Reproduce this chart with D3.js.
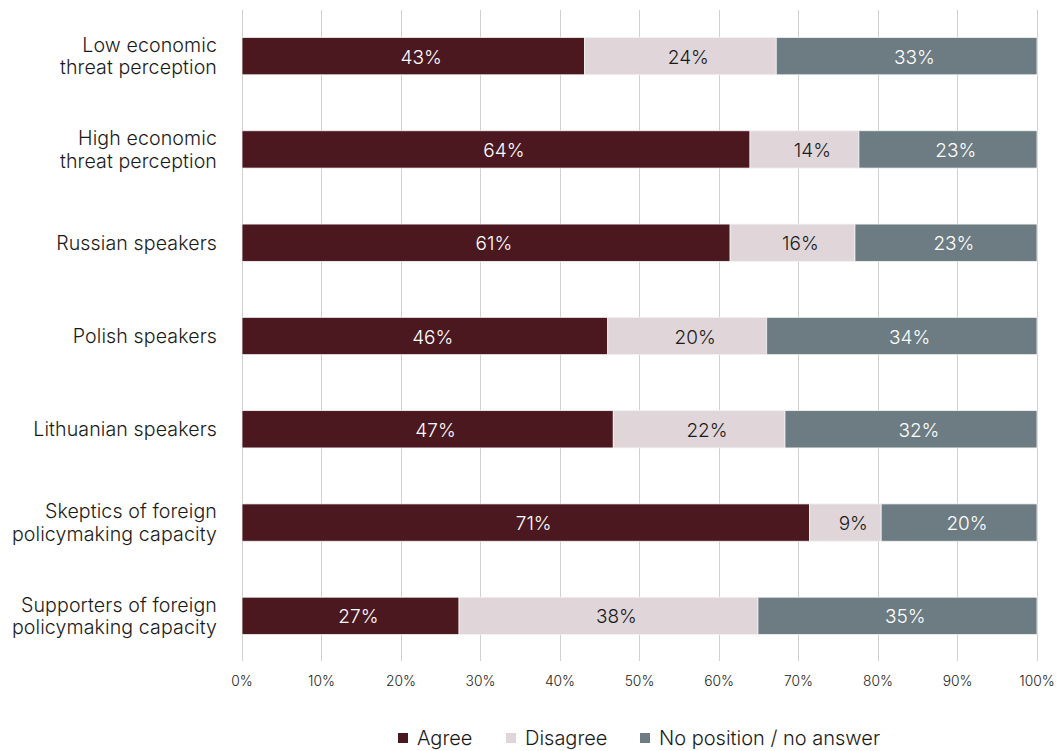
<!DOCTYPE html>
<html><head><meta charset="utf-8">
<script src="https://cdn.jsdelivr.net/npm/d3@7"></script>
<style>body{margin:0;background:#fff;font-family:Inter,"Noto Sans",sans-serif;} text{font-weight:300;}</style>
</head><body><svg id="c" width="1059" height="751"></svg>
<script>
const categories = [
  ["Low economic", "threat perception"],
  ["High economic", "threat perception"],
  ["Russian speakers"],
  ["Polish speakers"],
  ["Lithuanian speakers"],
  ["Skeptics of foreign", "policymaking capacity"],
  ["Supporters of foreign", "policymaking capacity"]
];
const agree    = [43.1, 63.9, 61.4, 46.0, 46.7, 71.4, 27.3];
const disagree = [24.1, 13.7, 15.7, 20.0, 21.6,  9.0, 37.6];
const noAnswer = [32.8, 22.4, 22.9, 34.0, 31.7, 19.6, 35.1];
const agreeLabels    = ["43%","64%","61%","46%","47%","71%","27%"];
const disagreeLabels = ["24%","14%","16%","20%","22%","9%","38%"];
const noAnswerLabels = ["33%","23%","23%","34%","32%","20%","35%"];
const seriesNames = ["Agree", "Disagree", "No position / no answer"];
const tickValues = [0,10,20,30,40,50,60,70,80,90,100];

const colors = ["#4b1820", "#e0d6da", "#6c7c82"];
const textColors = ["#ffffff", "#1a1a1a", "#ffffff"];
const svg = d3.select("#c");
const x = d3.scaleLinear().domain([0,100]).range([242,1037]);
const y = d3.scaleBand().domain(d3.range(categories.length)).range([9.5,662.5]).paddingInner(0.6).paddingOuter(0.3);

svg.append("g").selectAll("line").data(tickValues).join("line")
  .attr("x1", d=>x(d)).attr("x2", d=>x(d)).attr("y1", 9.5).attr("y2", 661)
  .attr("stroke", "#d0d0d0").attr("stroke-width", 1).attr("shape-rendering","crispEdges");

svg.append("g").selectAll("text").data(tickValues).join("text")
  .attr("x", d=>x(d)).attr("y", 686).attr("text-anchor","middle")
  .attr("font-size", 13.8).attr("fill","#222").text(d=>d+"%");

const series = [agree, disagree, noAnswer];
const labels = [agreeLabels, disagreeLabels, noAnswerLabels];
const measure = svg.append("text").attr("font-size",19).attr("opacity",0);
function digitWidth(s){ measure.text(s.replace("%","")); return measure.node().getComputedTextLength(); }
categories.forEach((cat,i)=>{
  let start = 0;
  series.forEach((s,k)=>{
    const v = s[i];
    const g = svg.append("g");
    g.append("rect").attr("x", x(start)).attr("y", y(i))
      .attr("width", x(start+v)-x(start)).attr("height", y.bandwidth())
      .attr("fill", colors[k]).attr("stroke","#f3f3f3").attr("stroke-width",0.8);
    const lab = labels[k][i];
    const cx = (x(start)+x(start+v))/2;
    g.append("text").attr("x", cx - digitWidth(lab)/2 - 1).attr("y", y(i)+y.bandwidth()/2+7.5)
      .attr("text-anchor","start").attr("font-size",19).attr("fill",textColors[k]).text(lab);
    start += v;
  });
  const cy = y(i)+y.bandwidth()/2;
  const t = svg.append("text").attr("text-anchor","end").attr("font-size",19.6).attr("letter-spacing",0.1).attr("fill","#1a1a1a");
  const n = cat.length;
  cat.forEach((line,j)=>{
    t.append("tspan").attr("x",217).attr("y", cy + 7 + (j-(n-1)/2)*22.5).text(line);
  });
});
measure.remove();

const legend = [{x:398},{x:506},{x:640}];
seriesNames.forEach((name,k)=>{
  const lx = legend[k].x;
  svg.append("rect").attr("x",lx).attr("y",733).attr("width",10).attr("height",10).attr("fill",colors[k]);
  svg.append("text").attr("x",lx+19).attr("y",745).attr("font-size",20).attr("fill","#1a1a1a").text(name);
});
</script></body></html>
